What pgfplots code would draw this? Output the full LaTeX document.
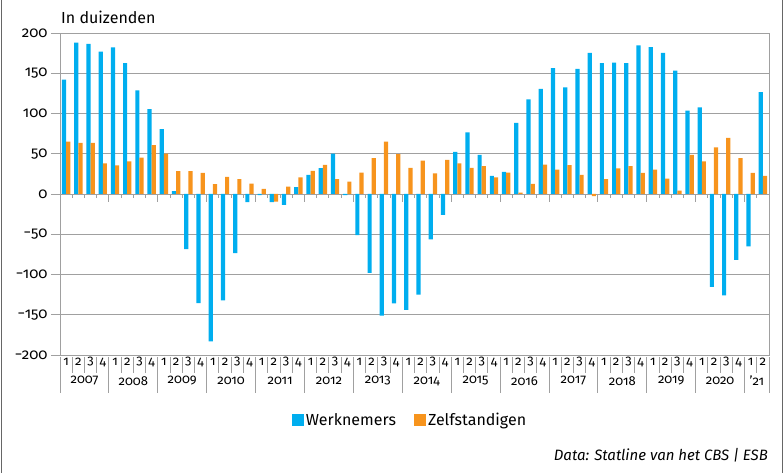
\documentclass[border=0pt]{standalone}
\usepackage{pgfplots}
\pgfplotsset{compat=1.18}
\usepackage{fontspec}
\setmainfont{Fira Sans}[Numbers=OldStyle]
\definecolor{wblue}{HTML}{00AEEF}
\definecolor{zorange}{HTML}{F7941D}
\definecolor{axgray}{HTML}{A0A0A0}
\begin{document}
\begin{tikzpicture}[x=1pt,y=1pt]
\useasboundingbox (0,0) rectangle (784,473);
\draw[gray!80!black, line width=1pt] (1.5,0) -- (1.5,473);
\draw[gray!80!black, line width=1pt] (782.5,0) -- (782.5,473);
\node[anchor=base west, font=\fontsize{16}{16}\selectfont, inner sep=0pt] at (61,449) {In duizenden};
\begin{axis}[
  at={(60pt,118pt)}, anchor=south west,
  width=709pt, height=322pt, scale only axis,
  xmin=-0.5, xmax=57.5, ymin=-200, ymax=200,
  ybar=0pt, bar width=4.2pt,
  ytick={-200,-150,...,200},
  yticklabels={−200,−150,−100,−50,0,50,100,150,200},
  yticklabel style={font=\fontsize{15}{15}\selectfont},
  ymajorgrids, grid style={axgray, line width=0.9pt},
  axis line style={axgray, line width=0.9pt},
  ytick pos=left, tick align=outside, major tick length=9pt,
  ytick style={axgray, line width=0.9pt},
  xtick={0,...,57},
  xticklabels={1,2,3,4,1,2,3,4,1,2,3,4,1,2,3,4,1,2,3,4,1,2,3,4,1,2,3,4,1,2,3,4,1,2,3,4,1,2,3,4,1,2,3,4,1,2,3,4,1,2,3,4,1,2,3,4,1,2},
  xtick style={draw=none},
  xticklabel style={font=\fontsize{13}{13}\selectfont, anchor=center, yshift=2pt},
  legend columns=2,
  legend style={draw=none, fill=none, at={(0.4937,-0.2019)}, anchor=center,
    font=\fontsize{16}{16}\selectfont, /tikz/every even column/.append style={column sep=16pt}},
  legend image code/.code={\fill[#1] (0pt,-6pt) rectangle (12pt,6pt);},
]
\addplot[fill=wblue, draw=none] coordinates {
(0,142) (1,188) (2,186.5) (3,177)
(4,182) (5,162.5) (6,128.6) (7,105.4)
(8,80.5) (9,3.5) (10,-68.5) (11,-135.6)
(12,-183) (13,-132) (14,-73.5) (15,-10)
(16,-1.5) (17,-10) (18,-13.5) (19,8.5)
(20,23.8) (21,32) (22,50) (23,-1.5)
(24,-51) (25,-98) (26,-151) (27,-136)
(28,-144) (29,-125) (30,-56.5) (31,-26)
(32,52.4) (33,76.4) (34,48.7) (35,22.6)
(36,27.6) (37,88.4) (38,117.4) (39,130.7)
(40,156.3) (41,132.3) (42,155.5) (43,175.4)
(44,162.5) (45,163.3) (46,162.5) (47,184.5)
(48,182.4) (49,175.4) (50,153.4) (51,103.7)
(52,107.5) (53,-115.3) (54,-126) (55,-81.8)
(56,-65) (57,126.5)
};
\addlegendentry{Werknemers}
\addplot[fill=zorange, draw=none] coordinates {
(0,65) (1,63.6) (2,63.6) (3,38)
(4,35.4) (5,40.4) (6,45.3) (7,60.7)
(8,50.3) (9,28.3) (10,28.3) (11,26.3)
(12,12.2) (13,21.3) (14,18.4) (15,13)
(16,6.5) (17,-9.5) (18,9.3) (19,20.5)
(20,28.8) (21,36.3) (22,18.4) (23,15.5)
(24,26.7) (25,44.5) (26,65) (27,49.5)
(28,32.5) (29,41.6) (30,25.5) (31,42.5)
(32,37.9) (33,32.5) (34,34.5) (35,20.5)
(36,26.7) (37,1.8) (38,12.6) (39,36.6)
(40,30.4) (41,35.8) (42,23.8) (43,-2.7)
(44,18.4) (45,31.7) (46,34.5) (47,26.3)
(48,30.4) (49,19.2) (50,4.3) (51,48.7)
(52,40.4) (53,57.8) (54,69.8) (55,44.5)
(56,26.3) (57,22.6)
};
\addlegendentry{Zelfstandigen}
\end{axis}
% quarter and year separators below the axis, ticks under the zero line
\foreach \k in {0,...,58}{
  \pgfmathsetmacro{\xx}{60+709/58*\k}
  \pgfmathtruncatemacro{\m}{mod(\k,4)}
  \ifnum\k=58 \def\m{0}\fi
  \ifnum\m=0
    \draw[axgray, line width=0.9pt] (\xx,116) -- (\xx,80);
    \draw[axgray, line width=0.9pt] (\xx,279) -- (\xx,271);
  \else
    \draw[axgray, line width=0.9pt] (\xx,116) -- (\xx,100);
    \draw[axgray, line width=0.9pt] (\xx,279) -- (\xx,275);
  \fi
}
\foreach \yr [count=\k from 0] in {2007,...,2020}{
  \pgfmathsetmacro{\xx}{60+709/58*(4*\k+2)}
  \node[font=\fontsize{13}{13}\selectfont, anchor=center] at (\xx,92) {\yr};
}
\node[font=\fontsize{13}{13}\selectfont, anchor=center] at (60+709/58*57,92) {’21};
\node[anchor=east, font=\itshape\fontsize{15}{15}\selectfont, inner sep=0pt] at (768,18) {Data: Statline van het CBS | ESB};
\end{tikzpicture}
\end{document}
